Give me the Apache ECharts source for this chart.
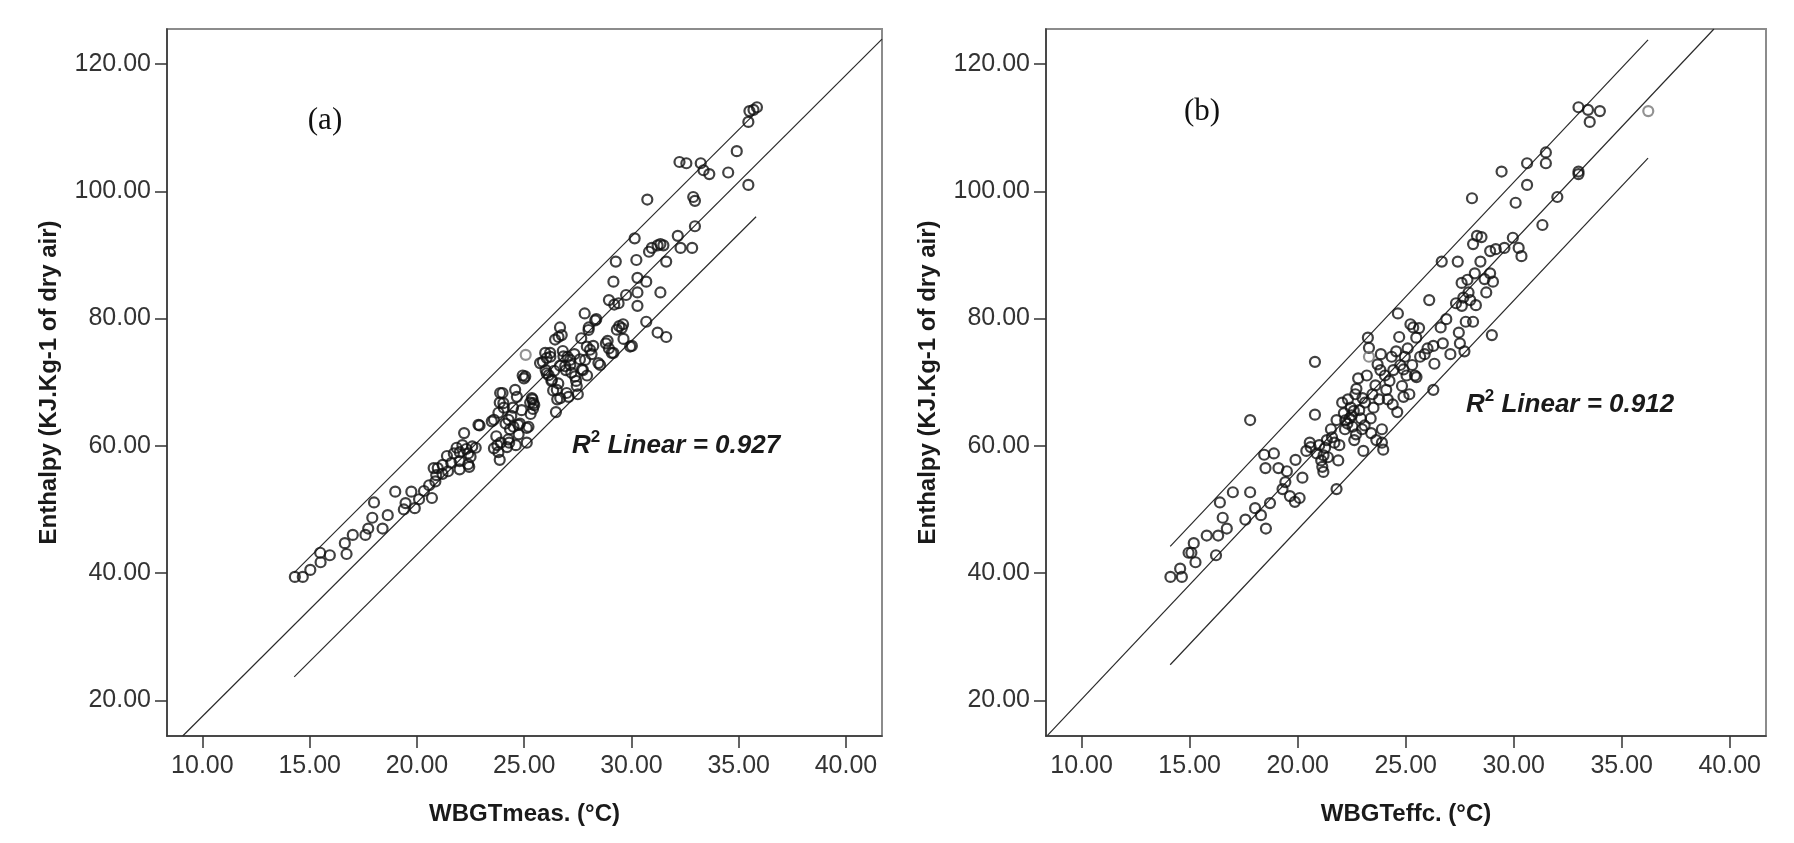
<!DOCTYPE html>
<html><head><meta charset="utf-8">
<script src="https://cdn.jsdelivr.net/npm/echarts@6/dist/echarts.min.js"></script>
<style>html,body{margin:0;padding:0;background:#fff}#c{width:1794px;height:843px}</style>
</head><body><div id="c"></div>
<script>
const xTicks = [10, 15, 20, 25, 30, 35, 40];
const yTicks = [20, 40, 60, 80, 100, 120];
const xRange = [8.35, 41.68];
const yRange = [14.4, 125.5];

// Panel (a): WBGTmeas vs Enthalpy
const pointsA = [
 [14.31,39.4],[14.68,39.4],[15.03,40.5],[15.49,43.2],[15.51,41.7],[15.94,42.8],[16.64,44.7],[16.72,43.0],
 [17.01,46.0],[17.60,46.0],[17.73,47.0],[17.92,48.7],[18.00,51.1],[18.40,47.0],[18.64,49.1],[18.99,52.8],
 [19.47,51.0],[19.74,52.8],[19.90,50.2],[19.39,50.0],[20.10,51.6],[20.33,52.9],[20.57,53.8],[20.70,51.8],
 [20.78,56.5],[20.86,54.4],[20.97,56.5],[21.19,55.6],[21.45,56.0],[21.40,58.4],[21.72,58.8],[21.85,59.7],
 [21.99,57.6],[22.12,60.1],[22.20,62.0],[22.39,58.8],[22.39,57.1],[22.44,56.7],[22.58,59.9],[22.74,59.7],
 [22.92,63.2],[23.59,64.1],[23.59,59.6],[23.75,60.1],[23.86,57.8],[23.91,60.5],[23.86,66.8],[23.99,68.3],
 [24.05,66.0],[24.13,63.5],[24.26,61.0],[24.34,62.6],[24.40,64.7],[24.48,66.0],[24.61,60.1],[24.74,61.8],
 [24.66,67.7],[24.80,63.5],[24.88,65.6],[24.93,71.05],[24.99,70.6],[25.12,60.5],[25.20,63.0],[25.28,66.8],
 [25.39,67.3],[25.41,65.8],[25.47,66.4],[25.87,73.2],[26.00,71.9],[26.14,71.1],[26.22,74.0],[26.27,70.2],
 [26.35,68.7],[26.48,65.3],[26.54,67.3],[26.59,69.8],[26.67,72.6],[26.67,78.6],[26.75,77.4],[26.80,74.9],
 [26.94,71.9],[27.02,74.0],[27.07,67.7],[27.15,72.7],[27.20,71.5],[27.34,74.4],[27.42,70.2],[27.50,68.1],
 [27.60,73.6],[27.74,71.9],[27.66,76.9],[27.82,80.8],[27.93,71.05],[28.01,78.6],[28.14,74.4],[28.22,75.7],
 [28.36,79.9],[28.54,72.7],[28.81,76.1],[28.95,75.3],[28.89,76.5],[29.16,74.6],[29.43,78.8],[29.61,79.1],
 [30.02,75.7],[30.69,79.5],[31.22,77.8],[31.62,77.1],[31.35,84.1],[29.16,85.8],[29.27,88.95],[28.95,82.9],
 [29.20,82.2],[29.40,82.4],[29.75,83.7],[30.15,92.6],[30.23,89.2],[30.28,86.4],[30.28,84.1],[30.28,82.0],
 [30.69,85.8],[30.82,90.5],[30.95,91.1],[31.22,91.5],[31.35,91.7],[31.49,91.5],[31.62,88.95],[30.74,98.7],
 [32.16,93.0],[32.29,91.1],[32.83,91.1],[32.96,94.5],[32.88,99.1],[32.96,98.5],[32.24,104.6],[32.56,104.4],
 [33.23,104.4],[33.36,103.3],[33.63,102.7],[34.51,102.95],[34.91,106.3],[35.45,101.0],[35.45,110.9],[35.50,112.6],
 [35.69,112.8],[35.85,113.2],[28.31,79.7],[28.00,78.2],[29.55,78.5],[29.63,76.8],[26.60,77.1],[26.21,74.6],
 [26.05,73.8],[20.90,55.4],[21.99,56.3],[22.30,59.5],[23.70,61.5],[24.20,59.8],[25.30,65.0],[26.40,71.8],
 [22.87,63.3],[23.49,63.85],[23.88,68.3],[24.03,66.7],[23.80,65.2],[24.27,64.1],[24.73,63.3],[24.58,68.8],
 [25.05,70.9],[25.36,67.5],[25.43,66.7],[25.12,62.8],[25.74,73.0],[25.98,74.6],[26.05,71.4],[26.29,70.4],
 [26.52,68.8],[26.44,76.7],[26.83,74.06],[26.91,72.5],[27.14,73.5],[27.37,70.9],[27.45,69.4],[27.69,72.0],
 [27.84,73.5],[27.92,75.6],[28.07,75.1],[28.46,73.0],[29.08,74.6],[29.32,78.25],[29.94,75.6],[26.98,68.3],
 [26.68,67.5],[21.20,57.0],[21.60,57.3],[22.00,59.0],[22.50,58.3],[23.80,59.0],[24.30,60.5],[24.50,63.0]
];
const grayA = [[25.07,74.3]];
const fitA = [[9.08,14.4],[41.68,123.9]];
const upperA = [[14.28,40.07],[35.81,112.4]];
const lowerA = [[14.28,23.7],[35.81,96.0]];

// Panel (b): WBGTeffc vs Enthalpy
const pointsB = [
 [14.11,39.4],[14.56,40.7],[14.64,39.4],[14.95,43.2],[15.08,43.2],[15.19,44.7],[15.27,41.7],[15.79,45.9],
 [16.22,42.8],[16.32,45.9],[16.40,51.1],[16.53,48.7],[16.72,47.0],[17.00,52.7],[17.58,48.4],[17.80,52.7],
 [17.80,64.05],[18.03,50.2],[18.30,49.1],[18.45,58.6],[18.51,56.5],[18.53,47.0],[18.72,51.0],[18.90,58.8],
 [19.11,56.5],[19.30,53.2],[19.43,54.3],[19.50,56.0],[19.64,52.1],[19.87,51.2],[19.90,57.8],[20.09,51.8],
 [20.22,55.0],[20.40,59.2],[20.56,60.5],[20.80,73.2],[20.80,64.9],[20.88,58.8],[21.00,60.1],[21.09,57.7],
 [21.14,56.7],[21.19,55.9],[21.27,59.7],[21.35,60.9],[21.54,62.6],[21.59,61.35],[21.80,64.05],[21.88,57.7],
 [21.93,60.1],[21.80,53.2],[22.06,66.8],[22.14,65.15],[22.19,62.6],[22.33,67.3],[22.40,64.3],[22.46,66.0],
 [22.54,63.0],[22.62,60.9],[22.67,68.1],[22.72,68.95],[22.80,70.6],[22.85,65.6],[22.93,64.3],[22.98,62.6],
 [23.04,59.2],[23.12,66.8],[23.20,71.05],[23.25,77.0],[23.30,75.4],[23.38,64.3],[23.46,68.1],[23.51,66.0],
 [23.64,60.9],[23.77,67.3],[23.83,71.9],[23.85,74.4],[23.90,62.6],[23.90,60.5],[23.96,59.4],[24.04,71.05],
 [24.17,67.3],[24.25,70.2],[24.35,74.0],[24.43,71.9],[24.56,74.85],[24.61,65.3],[24.64,80.8],[24.70,77.1],
 [24.75,72.7],[24.83,69.4],[24.90,67.7],[24.96,74.0],[25.04,71.05],[25.09,75.3],[25.17,68.1],[25.22,79.1],
 [25.30,72.7],[25.35,78.6],[25.43,71.05],[25.49,77.0],[25.62,78.5],[25.67,74.0],[25.88,74.4],[26.01,75.3],
 [26.09,82.9],[26.28,75.7],[26.33,72.9],[26.28,68.8],[26.62,78.6],[26.67,88.95],[26.72,76.1],[26.88,79.9],
 [27.07,74.4],[27.33,82.4],[27.41,88.95],[27.46,77.8],[27.51,76.1],[27.59,85.6],[27.67,83.3],[27.72,74.85],
 [27.78,79.5],[27.86,86.1],[27.91,84.1],[27.99,82.9],[28.07,98.9],[28.12,91.7],[28.12,79.5],[28.20,87.1],
 [28.25,82.1],[28.30,93.0],[28.46,88.95],[28.51,92.8],[28.65,86.2],[28.73,84.1],[28.91,87.1],[28.99,77.4],
 [29.04,85.8],[28.91,90.6],[29.17,90.9],[29.44,103.1],[29.57,91.1],[29.96,92.7],[30.09,98.2],[30.23,91.1],
 [30.36,89.8],[30.62,104.4],[30.62,101.0],[31.33,94.7],[31.49,106.1],[31.49,104.4],[32.02,99.1],[33.00,113.2],
 [33.00,102.7],[33.00,103.1],[33.44,112.8],[33.52,110.9],[33.99,112.6],[22.30,63.5],[22.70,61.8],[23.00,67.5],
 [23.60,69.5],[24.10,68.8],[20.60,59.8],[21.40,58.2],[22.50,64.8],[23.70,72.8],[25.50,70.8],[27.60,82.0],
 [22.20,64.0],[22.60,65.5],[23.10,63.2],[23.40,62.0],[21.20,58.5],[21.70,60.5],[24.40,66.5],[24.90,72.0]
];
const grayB = [[36.23,112.6],[23.30,74.0]];
const fitB = [[8.42,14.5],[39.27,125.5]];
const upperB = [[14.1,44.2],[36.22,123.8]];
const lowerB = [[14.1,25.6],[36.22,105.2]];

const FONT = 'Liberation Sans, Arial, sans-serif';
const textCol = '#333';

function xAxis(gi, name) {
  return {
    type: 'value', gridIndex: gi, min: xRange[0], max: xRange[1],
    name: name, nameLocation: 'middle', nameGap: 66,
    nameTextStyle: {fontFamily: FONT, fontWeight: 'bold', fontSize: 24, color: '#1a1a1a'},
    axisLine: {show: true, onZero: false, lineStyle: {color: '#333', width: 1.5}},
    axisTick: {show: true, length: 12, customValues: xTicks, lineStyle: {color: '#333', width: 1.5}},
    axisLabel: {customValues: xTicks, formatter: v => Number(v).toFixed(2), margin: 18,
      fontFamily: FONT, fontSize: 25, color: textCol},
    splitLine: {show: false}
  };
}
function yAxis(gi, name) {
  return {
    type: 'value', gridIndex: gi, min: yRange[0], max: yRange[1],
    name: name, nameLocation: 'middle', nameGap: 106, nameRotate: 90,
    nameTextStyle: {fontFamily: FONT, fontWeight: 'bold', fontSize: 24, color: '#1a1a1a'},
    axisLine: {show: true, onZero: false, lineStyle: {color: '#333', width: 1.5}},
    axisTick: {show: true, length: 12, customValues: yTicks, lineStyle: {color: '#333', width: 1.5}},
    axisLabel: {customValues: yTicks, formatter: v => Number(v).toFixed(2), margin: 16,
      padding: [11, 0, 0, 0], fontFamily: FONT, fontSize: 25, color: textCol},
    splitLine: {show: false}
  };
}
function scatter(gi, data, col) {
  return {type: 'scatter', xAxisIndex: gi, yAxisIndex: gi, data: data, symbol: 'circle', symbolSize: 10,
    itemStyle: {color: 'rgba(0,0,0,0)', borderColor: col, borderWidth: 2.2}, z: 3};
}
function line(gi, data) {
  return {type: 'line', xAxisIndex: gi, yAxisIndex: gi, data: data, showSymbol: false, clip: true,
    lineStyle: {color: '#2a2a2a', width: 1.2}, z: 2};
}
function r2(x, y, val) {
  return {type: 'text', x: x, y: y, style: {
    text: '{r|R}{s|2}{t| Linear = ' + val + '}', textVerticalAlign: 'middle',
    rich: {
      r: {fontFamily: FONT, fontWeight: 'bold', fontStyle: 'italic', fontSize: 26, fill: '#1a1a1a', lineHeight: 30, verticalAlign: 'bottom'},
      s: {fontFamily: FONT, fontWeight: 'bold', fontSize: 17, fill: '#1a1a1a', lineHeight: 30, verticalAlign: 'top'},
      t: {fontFamily: FONT, fontWeight: 'bold', fontStyle: 'italic', fontSize: 26, fill: '#1a1a1a', lineHeight: 30, verticalAlign: 'bottom'}
    }}};
}
function panelLabel(x, y, t) {
  return {type: 'text', x: x, y: y, style: {text: t, textAlign: 'center', textVerticalAlign: 'middle',
    fontFamily: 'Liberation Serif, Times New Roman, serif', fontSize: 31, fill: '#111'}};
}

const chart = echarts.init(document.getElementById('c'), null, {renderer: 'canvas'});
chart.setOption({
  animation: false,
  backgroundColor: '#fff',
  grid: [
    {left: 167, top: 29, width: 715, height: 707, show: true, borderColor: '#8c8c8c', borderWidth: 2, backgroundColor: 'transparent'},
    {left: 1046, top: 29, width: 720, height: 707, show: true, borderColor: '#8c8c8c', borderWidth: 2, backgroundColor: 'transparent'}
  ],
  xAxis: [xAxis(0, 'WBGTmeas. (°C)'), xAxis(1, 'WBGTeffc. (°C)')],
  yAxis: [yAxis(0, 'Enthalpy (KJ.Kg-1 of dry air)'), yAxis(1, 'Enthalpy (KJ.Kg-1 of dry air)')],
  series: [
    line(0, fitA), line(0, upperA), line(0, lowerA),
    scatter(0, pointsA, '#111'), scatter(0, grayA, '#777'),
    line(1, fitB), line(1, upperB), line(1, lowerB),
    scatter(1, pointsB, '#111'), scatter(1, grayB, '#777')
  ],
  graphic: [
    panelLabel(325, 121, '(a)'), panelLabel(1202, 112, '(b)'),
    r2(572, 444, '0.927'), r2(1466, 403, '0.912')
  ]
});
</script></body></html>
